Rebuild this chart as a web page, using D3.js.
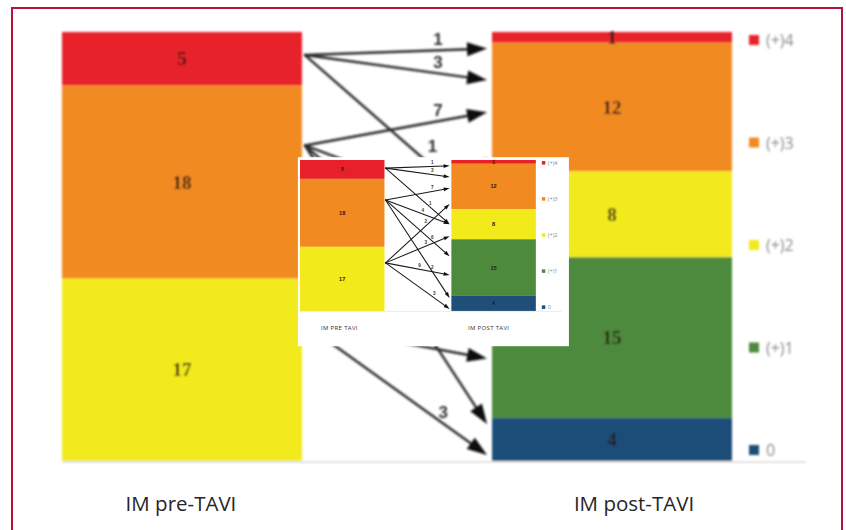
<!DOCTYPE html>
<html>
<head>
<meta charset="utf-8">
<script src="https://cdn.jsdelivr.net/npm/d3@7"></script>
<style>
  html, body { margin: 0; padding: 0; background: #fff; }
  svg { display: block; }
</style>
</head>
<body>
<div class="svgContainer"></div>
<script>
// grades before / after TAVI (number of patients)
const preCategories = ["(+)4", "(+)3", "(+)2"];
const preValues = [5, 18, 17];
const postCategories = ["(+)4", "(+)3", "(+)2", "(+)1", "0"];
const postValues = [1, 12, 8, 15, 4];

// transitions pre -> post
const flowFrom = ["(+)4", "(+)4", "(+)4", "(+)3", "(+)3", "(+)3", "(+)3", "(+)2", "(+)2", "(+)2", "(+)2"];
const flowTo = ["(+)4", "(+)3", "(+)2", "(+)3", "(+)2", "(+)1", "0", "(+)3", "(+)2", "(+)1", "0"];
const flowValues = [1, 3, 1, 7, 4, 6, 2, 2, 3, 9, 3];

const gradeColors = ["#e8202a", "#f28a22", "#f2ea1a", "#4d8a3c", "#1f4e79"];
const groupLabels = ["IM pre-TAVI", "IM post-TAVI"];
const insetGroupLabels = ["IM PRE TAVI", "IM POST TAVI"];

// layout only: where arrows leave / reach each block, where the label sits on each arrow
const sourceFrac = [0.43, 0.31, 0.25];
const tipFrac = [1.55, 0.29, 0.5, 0.54, 0.5, 0.3, 0.14, 0.89, 0.9, 0.63, 0.86];
const labelAt = [0.73, 0.73, 0.70, 0.73, 0.58, 0.73, 0.73, 0.63, 0.63, 0.53, 0.76];

const width = 846, height = 530;
const k = 0.352;                       // scale of the small copy
const insetBox = { x0: 298, x1: 569, y0: 157, y1: 346 };

const svg = d3.select('.svgContainer')
    .append('svg')
    .attr('width', width)
    .attr('height', height)
    .attr('viewBox', `0 0 ${width} ${height}`);

const defs = svg.append('defs');
defs.append('filter').attr('id', 'soft')
    .append('feGaussianBlur')
    .attr('in', 'SourceGraphic')
    .attr('stdDeviation', 0.8);

const x = d3.scaleBand().domain(["pre", "post"]).range([62, 732]).paddingInner(0.442);
const y = d3.scaleLinear().domain([0, 40]).range([32, 461]);
const color = d3.scaleOrdinal().domain(postCategories).range(gradeColors);
const legendY = d3.scalePoint().domain(postCategories).range([40, 450]);

function stack(cats, vals) {
    let acc = 0;
    return cats.map((c, i) => {
        const s = { cat: c, value: vals[i], y0: acc, y1: acc + vals[i] };
        acc += vals[i];
        return s;
    });
}

const preStack = stack(preCategories, preValues);
const postStack = stack(postCategories, postValues);

function buildFlows() {
    return flowValues.map((v, i) => {
        const si = preCategories.indexOf(flowFrom[i]);
        const src = preStack[si];
        const dst = postStack[postCategories.indexOf(flowTo[i])];
        return {
            value: v,
            t: labelAt[i],
            sx: x("pre") + x.bandwidth() + 3,
            sy: y(src.y0 + src.value * sourceFrac[si]),
            tx: x("post") - 5,
            ty: y(dst.y0 + dst.value * tipFrac[i])
        };
    });
}
const flows = buildFlows();

function drawChart(g, opt) {
    const bw = x.bandwidth();

    // bars
    [["pre", preStack], ["post", postStack]].forEach(([key, segs]) => {
        const bar = g.append('g').attr('class', 'bar-' + key);
        bar.selectAll('rect')
            .data(segs)
            .join('rect')
            .attr('x', x(key))
            .attr('width', bw)
            .attr('y', d => y(d.y0))
            .attr('height', d => y(d.y1) - y(d.y0))
            .attr('fill', d => color(d.cat));
        bar.selectAll('text')
            .data(segs)
            .join('text')
            .attr('x', x(key) + bw / 2)
            .attr('y', d => y((d.y0 + d.y1) / 2))
            .attr('text-anchor', 'middle')
            .attr('dominant-baseline', 'central')
            .attr('font-family', opt.inset ? 'Liberation Sans, Arial, sans-serif' : 'Liberation Serif, serif')
            .attr('font-weight', 'bold')
            .attr('font-size', opt.inset ? 16 : 19)
            .attr('fill', '#2a1a18')
            .text(d => d.value);
    });

    // faint baseline
    g.append('line')
        .attr('x1', x("pre")).attr('x2', 806)
        .attr('y1', y(40) + 1).attr('y2', y(40) + 1)
        .attr('stroke', '#e2e2e2')
        .attr('stroke-width', 2);

    // arrows
    const headL = opt.inset ? 17 : 20, headW = opt.inset ? 11 : 14;
    const arrows = g.append('g').attr('class', 'arrows');
    flows.forEach(f => {
        const dx = f.tx - f.sx, dy = f.ty - f.sy;
        const len = Math.sqrt(dx * dx + dy * dy);
        const ux = dx / len, uy = dy / len;
        const bx = f.tx - ux * headL, by = f.ty - uy * headL;
        arrows.append('line')
            .attr('x1', f.sx).attr('y1', f.sy)
            .attr('x2', bx + ux * 2).attr('y2', by + uy * 2)
            .attr('stroke', opt.inset ? '#1a1a1a' : '#2b2b2b')
            .attr('stroke-width', opt.inset ? 3 : 2.4)
            .attr('stroke-linecap', 'round');
        arrows.append('path')
            .attr('d', d3.line()([
                [f.tx, f.ty],
                [bx - uy * headW / 2, by + ux * headW / 2],
                [bx + uy * headW / 2, by - ux * headW / 2]
            ]) + 'Z')
            .attr('fill', '#111');

        const lx = f.sx + dx * f.t;
        let ly = f.sy + dy * f.t - 11;
        if (!opt.inset && lx > insetBox.x0 && lx < insetBox.x1) {
            // big labels under the small copy are never seen; one just at its edge is pushed above it
            if (ly > insetBox.y0 + 10 && ly < insetBox.y1 + 8) return;
            if (ly > insetBox.y0 - 10 && ly <= insetBox.y0 + 10) ly = insetBox.y0 - 11;
        }
        arrows.append('text')
            .attr('x', lx)
            .attr('y', ly)
            .attr('text-anchor', 'middle')
            .attr('dominant-baseline', 'central')
            .attr('font-family', 'Liberation Sans, Arial, sans-serif')
            .attr('font-weight', 'bold')
            .attr('font-size', opt.inset ? 13 : 17)
            .attr('fill', '#333')
            .text(f.value);
    });

    // legend
    const legend = g.append('g').attr('class', 'legend')
        .selectAll('g')
        .data(postCategories)
        .join('g')
        .attr('transform', d => `translate(749,${legendY(d)})`);
    legend.append('rect')
        .attr('x', 0).attr('y', -5)
        .attr('width', 10).attr('height', 10)
        .attr('fill', d => color(d));
    legend.append('text')
        .attr('x', 17)
        .attr('y', 0)
        .attr('dominant-baseline', 'central')
        .attr('font-family', 'Open Sans, sans-serif')
        .attr('font-size', 16)
        .attr('fill', '#8c8c8c')
        .text(d => d);
}

function drawGroupLabels(g, labels, opt) {
    g.selectAll('text.group')
        .data(["pre", "post"])
        .join('text')
        .attr('class', 'group')
        .attr('x', (d, i) => x(d) + x.bandwidth() / 2 + opt.shift[i])
        .attr('y', opt.y)
        .attr('text-anchor', 'middle')
        .attr('font-family', 'Open Sans, sans-serif')
        .attr('font-size', opt.size)
        .attr('letter-spacing', opt.spacing || 0)
        .attr('fill', opt.fill)
        .text((d, i) => labels[i]);
}

// big (blurred) chart
const big = svg.append('g').style('filter', 'url(#soft)');
drawChart(big, { inset: false });
drawGroupLabels(svg.append('g'), groupLabels, { y: 511, size: 20.5, fill: '#262626', shift: [-1, 22] });

// sharp small copy in the middle
const inset = svg.append('g')
    .attr('transform', `translate(${300 - 62 * k},${160 - 32 * k}) scale(${k})`);
inset.append('rect')
    .attr('x', 56).attr('y', 24)
    .attr('width', 770).attr('height', 537)
    .attr('fill', '#fff');
drawChart(inset, { inset: true });
drawGroupLabels(inset, insetGroupLabels, { y: 515, size: 17, fill: '#333', spacing: 1, shift: [-8, -14] });

// frame
svg.append('rect')
    .attr('x', 12).attr('y', 8)
    .attr('width', 830).attr('height', 560)
    .attr('fill', 'none')
    .attr('stroke', '#b5123c')
    .attr('stroke-width', 2);
</script>
</body>
</html>
